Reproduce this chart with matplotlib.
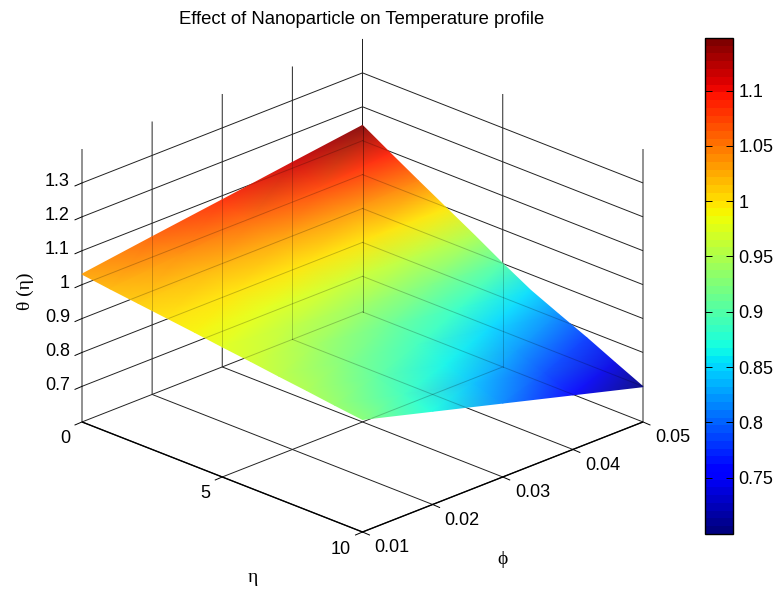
import numpy as np
import matplotlib
matplotlib.use("Agg")
import matplotlib.pyplot as plt
from matplotlib.colors import Normalize, ListedColormap
from matplotlib.cm import ScalarMappable
from matplotlib.patches import Polygon
from mpl_toolkits.mplot3d import proj3d

plt.rcParams['font.family'] = ['Liberation Sans', 'DejaVu Sans']

eta = [0, 1, 2, 3, 4, 5, 6, 7, 8, 9, 10]
phi = [0.01, 0.02, 0.03, 0.04, 0.05]
# one row per eta, one column per phi
theta = [
    [1.031, 1.060, 1.088, 1.117, 1.145],
    [1.020, 1.039, 1.058, 1.076, 1.095],
    [1.010, 1.019, 1.028, 1.037, 1.046],
    [1.000, 1.000, 0.999, 0.999, 0.998],
    [0.990, 0.980, 0.970, 0.960, 0.950],
    [0.979, 0.959, 0.940, 0.920, 0.900],
    [0.969, 0.940, 0.911, 0.882, 0.853],
    [0.958, 0.922, 0.887, 0.851, 0.815],
    [0.948, 0.905, 0.863, 0.820, 0.778],
    [0.937, 0.887, 0.838, 0.788, 0.738],
    [0.927, 0.870, 0.813, 0.756, 0.699],
]
eta_ticks = [0, 5, 10]
phi_ticks = [0.01, 0.02, 0.03, 0.04, 0.05]
z_ticks = [0.7, 0.8, 0.9, 1.0, 1.1, 1.2, 1.3]
z_labels = ['0.7', '0.8', '0.9', '1', '1.1', '1.2', '1.3']
cbar_ticks = [0.75, 0.8, 0.85, 0.9, 0.95, 1.0, 1.05, 1.1]
cbar_labels = ['0.75', '0.8', '0.85', '0.9', '0.95', '1', '1.05', '1.1']

W, H = 775, 589
FS = 13

fig = plt.figure(figsize=(W / 100, H / 100), dpi=100)
ax = fig.add_axes([0.0, 0.0, 0.94, 1.0], projection='3d', proj_type='ortho')
ax.view_init(elev=23.1, azim=-45)
ax.set_box_aspect((1, 1, 0.748))
ax.patch.set_alpha(0)
ax.set_xlim(0, 10, view_margin=0)
ax.set_ylim(0.01, 0.05, view_margin=0)
ax.set_zlim(0.595, 1.4, view_margin=0)
ax.set_xticks(eta_ticks)
ax.set_yticks(phi_ticks)
ax.set_zticks(z_ticks)
for a in (ax.xaxis, ax.yaxis, ax.zaxis):
    a.set_pane_color((1, 1, 1, 0))
    a.pane.set_edgecolor((1, 1, 1, 0))
    a.line.set_color((0, 0, 0, 0))
    a.set_tick_params(color=(0, 0, 0, 0), labelcolor=(0, 0, 0, 0))
    a._axinfo['grid'].update(color='#222222', linewidth=0.7)


def to_px(x, y, z):
    xp, yp, _ = proj3d.proj_transform(np.asarray(x, float), np.asarray(y, float), np.asarray(z, float), ax.get_proj())
    p = ax.transData.transform(np.c_[np.ravel(xp), np.ravel(yp)])
    return p[:, 0], H - p[:, 1]


# scale and shift the 3d axes until the floor sits where it does in the picture
zb = 0.595
zt = 1.4
for _ in range(3):
    fig.canvas.draw()
    px, py = to_px([0, 10, 10], [0.01, 0.01, 0.05], [zb, zb, zb])
    k = (643 - 82) / (px[2] - px[0])
    pos = ax.get_position(original=True)
    cx = pos.x0 + pos.width / 2 + (362.5 - (px[0] + px[2]) / 2) / W
    cy = pos.y0 + pos.height / 2 + (py[1] - 532) / H
    w2, h2 = pos.width * k, pos.height * k
    ax.set_position([cx - w2 / 2, cy - h2 / 2, w2, h2])
fig.canvas.draw()

ov = fig.add_axes([0, 0, 1, 1], facecolor='none')
ov.set_xlim(0, W)
ov.set_ylim(H, 0)
ov.axis('off')

vmin, vmax = 0.699, 1.1476
norm = Normalize(vmin, vmax)
cmap = plt.get_cmap('jet', 64)
jet_soft = ListedColormap(plt.get_cmap('jet')(np.linspace(0, 1, 256))[:, :3] * 0.93 + 0.07)

# surface, opaque so the triangles leave no seams
ee, pp = np.meshgrid(eta, phi, indexing='ij')
tt = np.array(theta)
sx, sy = to_px(ee.ravel(), pp.ravel(), tt.ravel())
ne, np_ = tt.shape
tris = []
for i in range(ne - 1):
    for j in range(np_ - 1):
        a0 = i * np_ + j
        tris.append([a0, a0 + 1, a0 + np_])
        tris.append([a0 + 1, a0 + np_ + 1, a0 + np_])
ov.tripcolor(sx, sy, tris, tt.ravel(), shading='gouraud', cmap=jet_soft, norm=norm)

# the box grid shows faintly through the surface
outline = [(sx[i * np_], sy[i * np_]) for i in range(ne)]
outline += [(sx[(ne - 1) * np_ + j], sy[(ne - 1) * np_ + j]) for j in range(np_)]
outline += [(sx[i * np_ + np_ - 1], sy[i * np_ + np_ - 1]) for i in range(ne - 1, -1, -1)]
outline += [(sx[j], sy[j]) for j in range(np_ - 1, -1, -1)]
clip = Polygon(outline, closed=True, transform=ov.transData, facecolor='none', edgecolor='none')
ov.add_patch(clip)
grid = []
for e in eta_ticks:
    grid.append(([e, e], [0.01, 0.05], [zb, zb]))
    grid.append(([e, e], [0.05, 0.05], [zb, zt]))
for p in phi_ticks:
    grid.append(([0, 10], [p, p], [zb, zb]))
    grid.append(([0, 0], [p, p], [zb, zt]))
for z in z_ticks:
    grid.append(([0, 0], [0.01, 0.05], [z, z]))
    grid.append(([0, 10], [0.05, 0.05], [z, z]))
for g in grid:
    gx, gy = to_px(*g)
    line, = ov.plot(gx, gy, color='k', lw=0.7, alpha=0.22)
    line.set_clip_path(clip)

# front edges of the floor
fx, fy = to_px([0, 10, 10], [0.01, 0.01, 0.05], [zb, zb, zb])
ov.plot(fx, fy, color='k', lw=1.0, solid_capstyle='butt')

# ticks and their labels
tx, ty = to_px(eta_ticks, [0.01] * 3, [zb] * 3)
for xx, yy, s in zip(tx, ty, ['0', '5', '10']):
    ov.plot([xx, xx - 7], [yy, yy + 3], color='k', lw=0.7)
    ov.text(xx - 11.5, yy + 17, s, ha='right', va='center', fontsize=FS)
tx, ty = to_px([10] * 5, phi_ticks, [zb] * 5)
for xx, yy, s in zip(tx, ty, ['0.01', '0.02', '0.03', '0.04', '0.05']):
    ov.plot([xx, xx + 7], [yy, yy + 3], color='k', lw=0.7)
    ov.text(xx + 12, yy + 16, s, ha='left', va='center', fontsize=FS)
tx, ty = to_px([0] * 7, [0.01] * 7, z_ticks)
for xx, yy, s in zip(tx, ty, z_labels):
    ov.plot([xx, xx - 7], [yy, yy + 3], color='k', lw=0.7)
    ov.text(xx - 12, yy - 1, s, ha='right', va='center', fontsize=FS)

ov.text(362, 19, 'Effect of Nanoparticle on Temperature profile', ha='center', va='center', fontsize=13.3)
ov.text(253, 577, 'η', ha='center', va='center', fontsize=14, family='Liberation Serif')
ov.text(503, 560, 'ϕ', ha='center', va='center', fontsize=14, family='Liberation Serif')
ov.text(25, 291, 'θ (η)', ha='center', va='center', rotation=90, fontsize=14, family='Liberation Serif')

# colorbar
cax = fig.add_axes([705 / W, 1 - 534 / H, 28 / W, 496 / H])
cb = fig.colorbar(ScalarMappable(norm=norm, cmap=cmap), cax=cax)
cb.set_ticks(cbar_ticks, labels=cbar_labels)
cax.tick_params(axis='y', direction='in', left=True, right=True, length=5, width=0.7, labelsize=FS, pad=4)
cb.outline.set_linewidth(1.0)

fig.savefig('out.png', dpi=100)
